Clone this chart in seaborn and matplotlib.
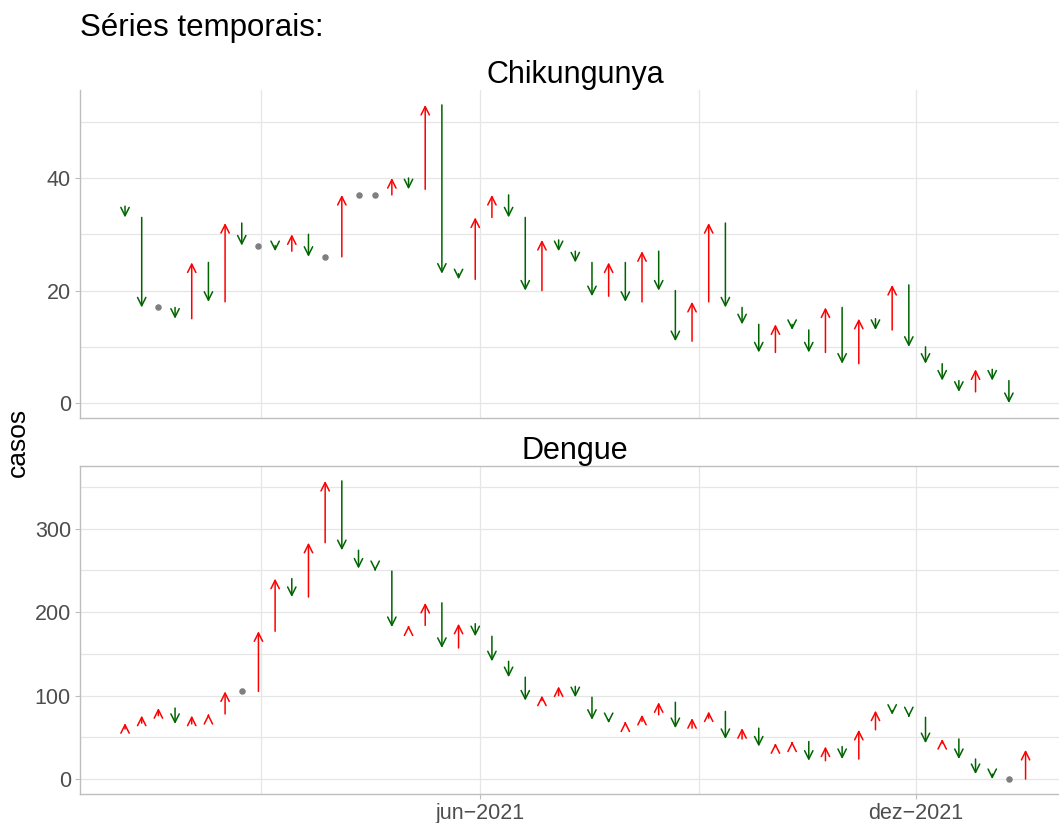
import matplotlib
matplotlib.use("Agg")
import numpy as np
import pandas as pd
import matplotlib.pyplot as plt
import matplotlib.dates as mdates
import seaborn as sns

# semanas epidemiologicas (a primeira so serve de valor anterior)
semanas = pd.date_range("2020-12-27", periods=56, freq="W-SUN")

chikungunya = [35, 33, 17, 17, 15, 25, 18, 32, 28, 28, 27, 30, 26, 26, 37, 37, 37, 40,
               38, 53, 23, 22, 33, 37, 33, 20, 29, 27, 25, 19, 25, 18, 27, 20, 11, 18,
               32, 17, 14, 9, 14, 13, 9, 17, 7, 15, 13, 21, 10, 7, 4, 2, 6, 4, 0, np.nan]

dengue = [60, 67, 76, 85, 66, 76, 78, 105, 105, 177, 240, 218, 283, 357, 274, 252, 249,
          182, 184, 211, 157, 186, 171, 141, 122, 94, 100, 111, 98, 71, 67, 69, 77, 92,
          61, 73, 81, 48, 61, 39, 43, 45, 22, 39, 24, 59, 82, 77, 74, 43, 48, 24, 6, 0,
          0, 35]

doencas = ["Chikungunya", "Dengue"]
y_major = {"Chikungunya": [0, 20, 40], "Dengue": [0, 100, 200, 300]}
y_minor = {"Chikungunya": [10, 30, 50], "Dengue": [50, 150, 250, 350]}

sns.set_theme(style="white")
plt.rcParams['font.family'] = ['Liberation Sans', 'DejaVu Sans']

df = pd.concat([
    pd.DataFrame({"doenca": "Chikungunya", "data": semanas, "casos": chikungunya}),
    pd.DataFrame({"doenca": "Dengue", "data": semanas, "casos": dengue}),
])
df["anterior"] = df.groupby("doenca")["casos"].shift(1)
df = df.dropna(subset=["casos", "anterior"])

fig = plt.figure(figsize=(10.59, 8.23), dpi=100)
W, H = 1059, 823
largura = 990.6 / W
axes = {
    "Chikungunya": fig.add_axes([80 / W, 1 - 418 / H, largura, 328 / H]),
    "Dengue": fig.add_axes([80 / W, 1 - 794 / H, largura, 328 / H]),
}

d0, d1 = df["data"].min(), df["data"].max()
expand = (d1 - d0) * 0.05

for doenca in doencas:
    ax = axes[doenca]
    sub = df[df["doenca"] == doenca]
    iguais = sub[sub["casos"] == sub["anterior"]]
    muda = sub[sub["casos"] != sub["anterior"]]

    for _, r in muda.iterrows():
        cor = "#FF0000" if r["casos"] > r["anterior"] else "#006400"
        x = mdates.date2num(r["data"])
        ax.annotate("", xy=(x, r["casos"]), xytext=(x, r["anterior"]),
                    arrowprops=dict(arrowstyle="->,head_length=0.6,head_width=0.3",
                                    color=cor, lw=1.1, shrinkA=0, shrinkB=0,
                                    mutation_scale=10))

    sns.scatterplot(data=iguais, x="data", y="casos", color="#7F7F7F", s=22,
                    linewidth=0, ax=ax, zorder=3)

    lo = min(sub["casos"].min(), sub["anterior"].min())
    hi = max(sub["casos"].max(), sub["anterior"].max())
    pad = (hi - lo) * 0.05
    ax.set_ylim(lo - pad, hi + pad)
    ax.set_xlim(d0 - expand, d1 + expand)

    ax.set_yticks(y_major[doenca])
    ax.set_yticks(y_minor[doenca], minor=True)
    ax.set_xticks(pd.to_datetime(["2021-06-01", "2021-12-01"]))
    ax.set_xticks(pd.to_datetime(["2021-03-01", "2021-09-01"]), minor=True)
    ax.set_xticklabels(["jun\u22122021", "dez\u22122021"])

    ax.grid(which="both", color="#E6E6E6", lw=0.9)
    ax.set_axisbelow(True)
    ax.tick_params(which="major", labelsize=15.5, labelcolor="#4D4D4D", color="#BEBEBE",
                   length=3.5, width=0.8, pad=3, left=True, bottom=True)
    ax.tick_params(which="minor", length=0)
    for lado in ["left", "bottom", "top", "right"]:
        ax.spines[lado].set_color("#BEBEBE")
        ax.spines[lado].set_linewidth(1.0)
    ax.spines["right"].set_visible(False)
    ax.spines["top"].set_visible(doenca == "Dengue")
    ax.set_xlabel("")
    ax.set_ylabel("")
    ax.set_title(doenca, fontsize=22, color="black", pad=5)

axes["Chikungunya"].tick_params(labelbottom=False, bottom=False)

fig.text(80 / W, 1 - 36 / H, "Séries temporais:", fontsize=22.5, color="black",
         ha="left", va="baseline")
fig.text(18 / W, 1 - 442 / H, "casos", fontsize=19, color="black", rotation=90,
         ha="center", va="center")

fig.savefig("out.png", dpi=100)
